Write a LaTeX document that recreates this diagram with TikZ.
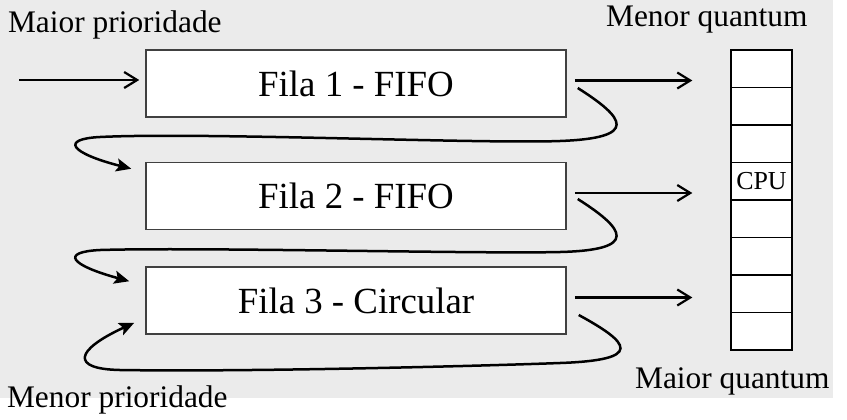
\documentclass[tikz,border=0pt]{standalone}
\usepackage{fontspec}
\setmainfont{Liberation Serif}
\usetikzlibrary{arrows.meta,calc}

\begin{document}
\begin{tikzpicture}[x=1bp,y=-1bp,line width=2.2bp,
  fila node/.style={rectangle,draw=black!75,line width=1.5bp,fill=white,
    minimum width=420bp,minimum height=67bp,inner sep=0pt,font=\fontsize{37}{40}\selectfont},
  cell node/.style={rectangle,draw,line width=1.3bp,fill=white,
    minimum width=61bp,minimum height=37.5bp,inner sep=0pt,font=\fontsize{26}{28}\selectfont},
  label node/.style={inner sep=0pt,anchor=base west,font=\fontsize{31.5}{34}\selectfont},
  flow/.style={-{Straight Barb[length=13bp,width=16bp]}},
  turn/.style={line width=2.5bp,-{Stealth[length=15bp,width=13bp,inset=3bp]}}]

\useasboundingbox (0,0) rectangle (847,419);
\fill[black!8] (0,0) rectangle (833,398);

% queues
\node[fila node] (f1) at (356,83.5) {Fila 1 - FIFO};
\node[fila node] (f2) at (356,196) {Fila 2 - FIFO};
\node[fila node] (f3) at (356,300.5) {Fila 3 - Circular};

% processor column
\foreach \i/\t in {1/,2/,3/,4/CPU,5/,6/,7/,8/}
  \node[cell node] (c\i) at (761.5,{50+37.5*(\i-0.5)}) {\t};

\node[label node] (maxprio) at (7,32) {Maior prioridade};
\node[label node] (minquant) at (605,26) {Menor quantum};
\node[label node] (maxquant) at (634,388) {Maior quantum};
\node[label node] (minprio) at (6,407) {Menor prioridade};

\coordinate (in) at (19,80);
\draw[flow,shorten >=6bp] (in) -- (in -| f1.west);

\foreach \f in {f1,f2,f3}{
  \coordinate (out) at ([shift={(8,-3)}]\f.east);
  \draw[flow,shorten >=38bp] (out) -- (out -| c1.west);
}

% demotion loops
\draw[turn] ([shift={(11,4.5)}]f1.east) .. controls (625,118) and (640,138) .. (560,141)
  .. controls (480,144) and (200,132) .. (100,137)
  .. controls (60,139) and (70,153) .. ([shift={(-14,7)}]f2.north west);
\draw[turn] ([shift={(11,3)}]f2.east) .. controls (625,229) and (640,250) .. (560,252)
  .. controls (480,254) and (200,247) .. (100,250)
  .. controls (60,252) and (70,265) .. ([shift={(-16,15)}]f3.north west);
\draw[turn] ([shift={(12,14.5)}]f3.east) .. controls (630,343) and (645,360) .. (560,363)
  .. controls (480,366) and (250,372) .. (120,370)
  .. controls (70,369) and (75,350) .. ([shift={(-11,-12)}]f3.south west);
\end{tikzpicture}
\end{document}
